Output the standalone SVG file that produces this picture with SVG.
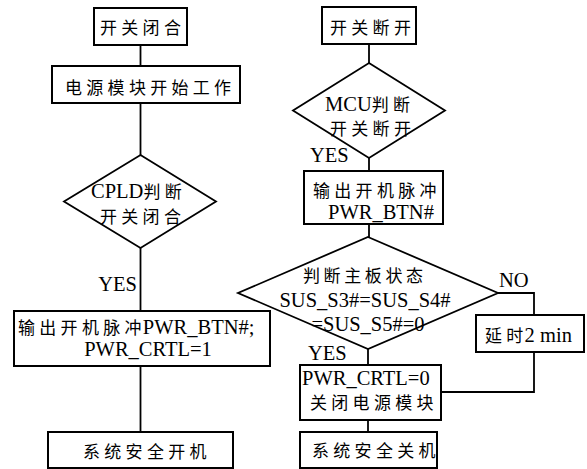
<svg xmlns="http://www.w3.org/2000/svg" width="587" height="469" viewBox="0 0 587 469">
<style>
.box{fill:#fff;stroke:#000;stroke-width:2}
.dia{fill:#fff;stroke:#000;stroke-width:1.8}
.ln{fill:none;stroke:#000;stroke-width:1.8}
text{fill:#000}
.zh{font-family:"Noto Sans CJK SC","Noto Sans",sans-serif;font-size:17px;letter-spacing:4.3px}
.en{font-family:"Liberation Serif","Times New Roman",serif;font-size:20.5px;letter-spacing:0}
</style>
<rect width="587" height="469" fill="#fff"/>
<g id="connectors">
<line class="ln" x1="140.5" y1="45" x2="140.5" y2="66"/>
<line class="ln" x1="140.5" y1="103" x2="140.5" y2="155"/>
<line class="ln" x1="140.5" y1="248" x2="140.5" y2="311"/>
<line class="ln" x1="140.5" y1="366" x2="140.5" y2="432"/>
<line class="ln" x1="369" y1="44" x2="369" y2="63"/>
<line class="ln" x1="369" y1="158" x2="369" y2="171"/>
<line class="ln" x1="369" y1="224" x2="369" y2="237"/>
<line class="ln" x1="368" y1="349" x2="368" y2="365"/>
<line class="ln" x1="368" y1="420" x2="368" y2="432"/>
<polyline class="ln" points="498,293 534,293 534,315"/>
<polyline class="ln" points="534,352 534,392 441,392"/>
</g>
<g id="n_on">
<rect class="box" x="94" y="8" width="93" height="37"/>
<text class="zh" x="100" y="34">开关闭合</text>
</g>
<g id="n_power_start">
<rect class="box" x="52" y="66" width="188" height="37"/>
<text class="zh" x="65" y="94">电源模块开始工作</text>
</g>
<g id="n_cpld">
<polygon class="dia" points="140.5,155 216,201.5 140.5,248 64,201.5"/>
<text x="91" y="198"><tspan class="en">CPLD</tspan><tspan class="zh">判断</tspan></text>
<text class="zh" x="100" y="223">开关闭合</text>
</g>
<text id="l_yes1" class="en" x="137" y="291" text-anchor="end">YES</text>
<g id="n_pulse1">
<rect class="box" x="14" y="311" width="256" height="55"/>
<text x="18" y="334"><tspan class="zh">输出开机脉冲</tspan><tspan class="en" dx="-3">PWR_BTN#;</tspan></text>
<text class="en" x="148" y="356" text-anchor="middle">PWR_CRTL=1</text>
</g>
<g id="n_boot">
<rect class="box" x="48" y="432" width="185" height="36"/>
<text class="zh" x="83" y="458">系统安全开机</text>
</g>
<g id="n_off">
<rect class="box" x="322" y="7" width="94" height="37"/>
<text class="zh" x="330" y="34">开关断开</text>
</g>
<g id="n_mcu">
<polygon class="dia" points="369,63 445,110.5 369,158 293,110.5"/>
<text x="325" y="111"><tspan class="en">MCU</tspan><tspan class="zh">判断</tspan></text>
<text class="zh" x="330" y="135">开关断开</text>
</g>
<text id="l_yes2" class="en" x="310" y="162">YES</text>
<g id="n_pulse2">
<rect class="box" x="304" y="171" width="139" height="53"/>
<text class="zh" x="313" y="197">输出开机脉冲</text>
<text class="en" x="328" y="219">PWR_BTN#</text>
</g>
<g id="n_state">
<polygon class="dia" points="368,237 498,293 368,349 238,293"/>
<text class="zh" x="303" y="282" style="letter-spacing:3.6px">判断主板状态</text>
<text class="en" x="365" y="307" text-anchor="middle">SUS_S3#=SUS_S4#</text>
<text class="en" x="368" y="331" text-anchor="middle">=SUS_S5#=0</text>
</g>
<text id="l_no" class="en" x="499" y="287">NO</text>
<g id="n_delay">
<rect class="box" x="476" y="315" width="108" height="37"/>
<text x="485" y="342"><tspan class="zh">延时</tspan><tspan class="en" dx="-3">2 min</tspan></text>
</g>
<text id="l_yes3" class="en" x="308" y="360">YES</text>
<g id="n_power_off">
<rect class="box" x="300" y="365" width="141" height="55"/>
<text class="en" x="302" y="385">PWR_CRTL=0</text>
<text class="zh" x="310" y="409">关闭电源模块</text>
</g>
<g id="n_shutdown">
<rect class="box" x="300" y="432" width="137" height="36"/>
<text class="zh" x="312" y="457">系统安全关机</text>
</g>
</svg>
